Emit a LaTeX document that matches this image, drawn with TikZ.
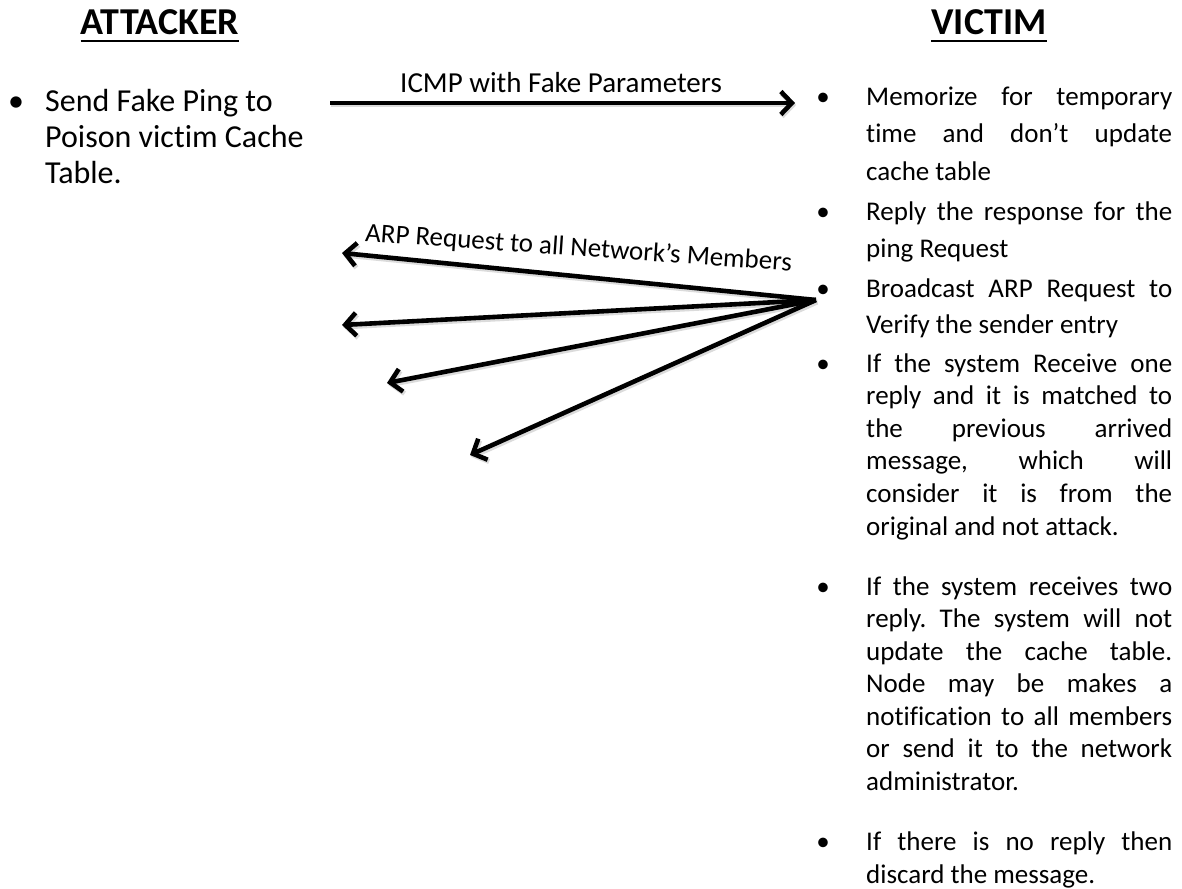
\documentclass[tikz,border=0pt]{standalone}
\usepackage{fontspec}
\setmainfont{Carlito}[Ligatures={TeX,NoCommon}]
\usetikzlibrary{arrows.meta}
\frenchspacing
\newcommand\jline[1]{\makebox[306pt][s]{#1}}
\tikzset{
  head/.style={font=\fontsize{38}{44}\selectfont\bfseries, inner sep=0pt, anchor=base},
  uline/.style={line width=2.8pt},
  txtL/.style={font=\fontsize{32}{36}\selectfont, inner sep=0pt},
  txtR/.style={font=\fontsize{27}{37}\selectfont, inner sep=0pt},
  lbl/.style={font=\fontsize{29}{32}\selectfont, inner sep=0pt, anchor=base},
  conn/.style={line width=4.6pt, -{Straight Barb[length=11pt,width=23pt]},
    preaction={draw=black!14, line width=5pt, transform canvas={shift={(1.2pt,-2pt)}}}},
}
\begin{document}
\begin{tikzpicture}[x=1pt,y=-1pt]
\useasboundingbox (0,0) rectangle (1182,888);
% headings
\node[head] (att) at (160,35) {ATTACKER};
\node[head] (vic) at (989,35) {VICTIM};
\draw[uline] ([yshift=-6pt]att.base west) -- ([yshift=-6pt]att.base east);
\draw[uline] ([yshift=-6pt]vic.base west) -- ([yshift=-6pt]vic.base east);
% attacker text
\node[txtL, anchor=base] (lb) at (16,111) {•};
\node[txtL, anchor=base west] (lt) at (45,111)
  {\parbox[t]{320pt}{\raggedright Send Fake Ping to\\Poison victim Cache\\Table.}};
% victim bullets
\node[txtR, anchor=base] (b1) at (823,106) {•};
\node[txtR, anchor=base] (b2) at (823,220) {•};
\node[txtR, anchor=base] (b3) at (823,297) {•};
\node[txtR, anchor=base] (b4) at (823,372) {•};
\node[txtR, anchor=base] (b5) at (823,595) {•};
\node[txtR, anchor=base] (b6) at (823,850) {•};
\node[txtR, anchor=base west] (v1) at (866,106)
  {\parbox[t]{306pt}{\jline{Memorize for temporary}\\\jline{time and don’t update}\\cache table}};
\node[txtR, anchor=base west] (v2) at (866,220)
  {\parbox[t]{306pt}{\jline{Reply the response for the}\\ping Request}};
\node[txtR, anchor=base west, font=\fontsize{27}{36}\selectfont] (v3) at (866,297)
  {\parbox[t]{306pt}{\jline{Broadcast ARP Request to}\\Verify the sender entry}};
\node[txtR, anchor=base west, font=\fontsize{27}{32.6}\selectfont] (v4) at (866,372)
  {\parbox[t]{306pt}{\jline{If the system Receive one}\\\jline{reply and it is matched to}\\\jline{the previous arrived}\\\jline{message, which will}\\\jline{consider it is from the}\\original and not attack.}};
\node[txtR, anchor=base west, font=\fontsize{27}{32.5}\selectfont] (v5) at (866,595)
  {\parbox[t]{306pt}{\jline{If the system receives two}\\\jline{reply. The system will not}\\\jline{update the cache table.}\\\jline{Node may be makes a}\\\jline{notification to all members}\\\jline{or send it to the network}\\administrator.}};
\node[txtR, anchor=base west, font=\fontsize{27}{33}\selectfont] (v6) at (866,850)
  {\parbox[t]{306pt}{\jline{If there is no reply then}\\discard the message.}};
% ICMP arrow
\coordinate (icmpA) at (330,103);
\coordinate (icmpB) at (795,103);
\draw[conn] (icmpA) -- (icmpB);
\node[lbl] (icmpL) at (561,93) {ICMP with Fake Parameters};
% ARP fan
\coordinate (src) at (816,300);
\coordinate (t1) at (342,253);
\coordinate (t2) at (342,325);
\coordinate (t3) at (387,383);
\coordinate (t4) at (470,455);
\draw[conn] (src) -- (t1);
\draw[conn] (src) -- (t2);
\draw[conn] (src) -- (t3);
\draw[conn] (src) -- (t4);
\node[lbl, font=\fontsize{27}{30}\selectfont, rotate=-4] (arpL) at (578,256) {ARP Request to all Network’s Members};
\end{tikzpicture}
\end{document}
